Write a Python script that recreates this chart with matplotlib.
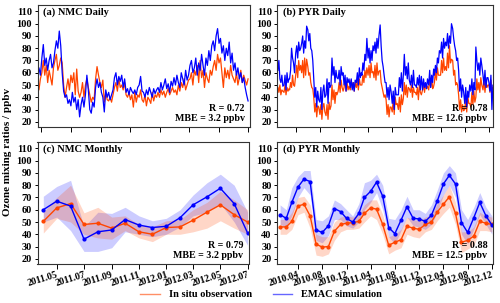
import matplotlib
matplotlib.use("Agg")
import matplotlib.pyplot as plt
import matplotlib.dates as mdates
from matplotlib.lines import Line2D
import pandas as pd

plt.rcParams['font.family'] = ['Liberation Serif', 'DejaVu Serif']
plt.rcParams['font.weight'] = 'bold'

OBS_COLOR = '#ff4500'
SIM_COLOR = '#0000ff'

# ---------------- NMC daily (every 3rd day from 2011-04-23) ----------------
nmc_daily_start = '2011-04-23'
nmc_daily_sim = [60, 64, 58, 72, 83, 66, 72, 62, 70, 75, 64, 68, 78, 86, 80, 94, 82,
                 60, 45, 40, 42, 35, 38, 33, 44, 36, 40, 30, 38, 24, 34, 40, 32, 42, 58, 46,
                 30, 27, 36, 32, 48, 55, 48, 52, 44, 40, 28, 46, 40, 44, 38, 42, 46,
                 56, 60, 50, 57, 53, 58, 48, 55, 44, 47, 42, 48, 45, 43, 46, 42, 48, 50, 57, 45,
                 44, 40, 46, 42, 48, 44, 40, 47, 43, 46,
                 48, 44, 52, 46, 50, 55, 47, 51, 44, 53, 49, 56,
                 50, 58, 52, 48, 60, 55, 50, 62, 54, 58,
                 66, 70, 60, 64, 72, 58, 68, 62, 75, 66,
                 58, 72, 66, 78, 70, 82, 86, 78, 90, 96, 84, 88,
                 76, 82, 70, 80, 74, 85, 68, 76,
                 62, 68, 58, 64, 55, 60, 52, 56, 48, 42, 37]
nmc_daily_obs = [52, 46, 55, 60, 70, 58, 66, 52, 62, 56, 50, 64, 70, 75, 62, 66, 72,
                 68, 50, 40, 48, 55, 46, 58, 52, 60, 42, 63, 45, 40, 44, 52, 40, 50, 55, 48,
                 42, 36, 40, 38, 55, 65, 58, 52, 48, 54, 36, 44, 38, 37, 40, 36, 42,
                 48, 52, 45, 55, 48, 50, 46, 52, 42, 40, 44, 38, 42, 32, 44, 36, 42, 40, 46, 38,
                 36, 42, 33, 40, 38, 35, 44, 37, 42, 40,
                 44, 40, 46, 42, 45, 40, 44, 47, 42, 45, 48, 44,
                 46, 42, 50, 45, 52, 48, 55, 46, 50, 54,
                 55, 60, 50, 62, 58, 66, 52, 70, 56, 62,
                 48, 60, 55, 52, 62, 58, 65, 70, 62, 75, 68, 72,
                 60, 48, 64, 56, 62, 55, 66, 58,
                 55, 52, 60, 50, 56, 62, 52, 58, 54, 50, 55]

# ---------------- PYR daily (6 samples per month, 2010-01 .. 2012-12) ----------------
pyr_daily_first_month = '2010-01-01'
pyr_day_offsets = [0, 5, 10, 15, 20, 25]
pyr_daily_sim = [
    62, 70, 55, 52, 58, 49,   50, 58, 46, 60, 52, 55,   55, 62, 80, 72, 68, 60,
    76, 82, 72, 85, 78, 80,   84, 90, 76, 86, 80, 98,   95, 86, 92, 80, 78, 70,
    55, 40, 48, 32, 45, 38,   36, 48, 30, 45, 50, 40,   42, 55, 35, 52, 48, 50,
    72, 58, 65, 52, 62, 56,   55, 62, 50, 65, 58, 60,   50, 58, 45, 56, 52, 55,
    48, 55, 46, 52, 45, 54,   52, 60, 50, 64, 56, 60,   58, 68, 62, 75, 70, 88,
    72, 80, 68, 78, 70, 82,   78, 85, 76, 88, 80, 90,   99, 82, 70, 65, 58, 52,
    52, 40, 48, 38, 50, 45,   35, 45, 30, 48, 42, 42,   42, 56, 48, 60, 45, 58,
    75, 58, 65, 55, 68, 54,   50, 58, 48, 62, 50, 50,   48, 56, 50, 58, 46, 57,
    46, 55, 48, 52, 47, 55,   50, 62, 48, 58, 52, 63,   58, 66, 60, 72, 68, 78,
    76, 85, 72, 88, 80, 85,   82, 92, 80, 90, 84, 100,  96, 88, 82, 78, 70, 72,
    62, 45, 55, 40, 50, 45,   35, 48, 32, 45, 40, 50,   45, 55, 42, 52, 46, 81,
    70, 62, 68, 58, 72, 66,   58, 50, 62, 48, 56, 56,   52, 45, 58, 30, 50, 50]
pyr_daily_obs = [
    48, 44, 50, 42, 46, 45,   44, 50, 42, 48, 45, 47,   46, 52, 48, 58, 50, 49,
    58, 66, 56, 70, 62, 66,   60, 70, 56, 72, 58, 71,   65, 58, 60, 52, 48, 47,
    40, 28, 35, 24, 33, 32,   26, 34, 22, 32, 35, 28,   25, 34, 22, 36, 30, 33,
    50, 38, 46, 35, 44, 42,   45, 52, 44, 54, 48, 45,   48, 54, 45, 52, 46, 49,
    46, 54, 48, 52, 45, 52,   48, 54, 46, 55, 50, 50,   50, 58, 52, 62, 56, 64,
    58, 66, 56, 68, 60, 61,   56, 66, 54, 68, 58, 61,   62, 52, 48, 44, 40, 42,
    38, 26, 34, 24, 32, 32,   28, 38, 26, 40, 34, 35,   30, 40, 28, 42, 34, 39,
    52, 42, 50, 40, 48, 47,   44, 50, 40, 48, 44, 44,   42, 48, 38, 50, 44, 42,
    46, 52, 44, 50, 47, 49,   46, 54, 48, 56, 47, 49,   52, 62, 54, 64, 58, 58,
    58, 70, 60, 72, 62, 65,   62, 76, 64, 82, 68, 71,   70, 58, 62, 50, 52, 50,
    42, 30, 38, 28, 34, 29,   30, 40, 28, 42, 35, 35,   32, 44, 34, 45, 36, 40,
    55, 46, 52, 44, 56, 50,   46, 54, 44, 52, 48, 50,   50, 44, 54, 46, 48, 46]

# ---------------- NMC monthly (2011-04 .. 2012-07) ----------------
nmc_month_start = '2011-04-01'
nmc_mon_obs = [50.5, 61.5, 65, 48, 49, 45, 49, 42, 40, 45.5, 46, 51.5, 58, 64, 56, 50]
nmc_mon_obs_hi = [58, 70, 80, 57.5, 62, 54, 55, 48, 46, 51, 52, 60, 66, 75, 68, 60]
nmc_mon_obs_lo = [41, 53, 50, 40, 37, 36, 43, 37, 34, 40, 40, 42, 45, 51, 45, 40]
nmc_mon_sim = [60, 67, 63, 36, 42, 43.5, 52, 47.5, 45.5, 46.5, 53.5, 64, 70.5, 77.5, 65, 41]
nmc_mon_sim_hi = [71, 79, 84, 46, 58, 57, 62, 55, 51, 53, 60, 72, 82, 89, 80, 58]
nmc_mon_sim_lo = [50, 54, 43, 26, 26, 29, 42, 40, 38, 40, 46, 55, 58, 65, 50, 31]

# ---------------- PYR monthly (2010-01 .. 2012-12) ----------------
pyr_month_start = '2010-01-01'
pyr_mon_obs = [46, 46, 50.5, 63, 64.5, 55, 32, 29.5, 30, 42.5, 48, 49,
               49.5, 50.5, 57, 61.5, 60.5, 48, 31, 33.5, 35.5, 46.5, 45, 44,
               48, 50, 58, 64.5, 70.5, 57, 33.5, 35, 38.5, 50.5, 49, 48]
pyr_mon_obs_hi = [52, 52, 58, 70, 71, 64, 40, 38, 38, 50, 54, 55,
                  54, 56, 64, 68, 68, 56, 38, 40, 44, 54, 52, 51,
                  54, 56, 65, 72, 80, 66, 42, 42, 46, 58, 55, 54]
pyr_mon_obs_lo = [40, 40, 44, 56, 58, 45, 23, 22, 24, 35, 42, 44,
                  44, 45, 50, 55, 52, 40, 24, 27, 29, 40, 38, 37,
                  42, 44, 51, 57, 62, 48, 25, 28, 31, 43, 43, 42]
pyr_mon_sim = [56, 53, 66, 78.5, 85, 83, 43.5, 41.5, 47, 61, 58.5, 53,
               50, 57, 70, 75, 82.5, 71, 45.5, 40.5, 51.5, 62.5, 53, 52.5,
               50.5, 55.5, 67, 81, 88, 81, 49.5, 41.5, 53.5, 66, 55, 47.5]
pyr_mon_sim_hi = [64, 60, 78, 87, 92, 92, 52, 51, 55, 68, 65, 60,
                  55, 65, 82, 84, 89, 80, 53, 52, 60, 71, 60, 60,
                  57, 64, 76, 90, 96, 90, 60, 52, 62, 74, 62, 55]
pyr_mon_sim_lo = [48, 46, 55, 70, 78, 72, 35, 33, 39, 52, 52, 47,
                  45, 50, 60, 66, 74, 60, 38, 32, 43, 54, 47, 46,
                  44, 48, 58, 72, 80, 70, 40, 32, 44, 56, 48, 40]

panel_titles = ['(a) NMC Daily', '(b) PYR Daily', '(c) NMC Monthly', '(d) PYR Monthly']
stats_text = ['R = 0.72\nMBE = 3.2 ppbv', 'R = 0.78\nMBE = 12.6 ppbv',
              'R = 0.79\nMBE = 3.2 ppbv', 'R = 0.88\nMBE = 12.5 ppbv']
y_ticks = [20, 30, 40, 50, 60, 70, 80, 90, 100, 110]
legend_labels = ['In situ observation', 'EMAC simulation']
y_label = 'Ozone mixing ratios / ppbv'

# ---------------- build x values ----------------
nmc_d_dates = pd.date_range(nmc_daily_start, periods=len(nmc_daily_sim), freq='3D')
pyr_months = pd.date_range(pyr_daily_first_month, periods=len(pyr_daily_sim) // 6, freq='MS')
pyr_d_dates = pd.DatetimeIndex([m + pd.Timedelta(days=o) for m in pyr_months for o in pyr_day_offsets])
nmc_m_dates = pd.date_range(nmc_month_start, periods=len(nmc_mon_obs), freq='MS')
pyr_m_dates = pd.date_range(pyr_month_start, periods=len(pyr_mon_obs), freq='MS')

fig = plt.figure(figsize=(5, 3.03), dpi=100)
W, H = 500, 303
def axpos(l, r, t, b):
    return [l / W, 1 - b / H, (r - l) / W, (b - t) / H]

ax_a = fig.add_axes(axpos(37.5, 250, 4.7, 127.3))
ax_b = fig.add_axes(axpos(277.3, 492.7, 4.7, 127.3))
ax_c = fig.add_axes(axpos(37.5, 248.5, 141.7, 264.3))
ax_d = fig.add_axes(axpos(277.3, 492.7, 141.7, 264.3))
axes = [ax_a, ax_b, ax_c, ax_d]

# daily
ax_a.plot(nmc_d_dates, nmc_daily_obs, color=OBS_COLOR, lw=0.9)
ax_a.plot(nmc_d_dates, nmc_daily_sim, color=SIM_COLOR, lw=0.9)
ax_b.plot(pyr_d_dates, pyr_daily_obs, color=OBS_COLOR, lw=0.9)
ax_b.plot(pyr_d_dates, pyr_daily_sim, color=SIM_COLOR, lw=0.9)

# monthly
for ax, d, o, ohi, olo, s, shi, slo in [
        (ax_c, nmc_m_dates, nmc_mon_obs, nmc_mon_obs_hi, nmc_mon_obs_lo, nmc_mon_sim, nmc_mon_sim_hi, nmc_mon_sim_lo),
        (ax_d, pyr_m_dates, pyr_mon_obs, pyr_mon_obs_hi, pyr_mon_obs_lo, pyr_mon_sim, pyr_mon_sim_hi, pyr_mon_sim_lo)]:
    ax.fill_between(d, slo, shi, color=SIM_COLOR, alpha=0.2, lw=0)
    ax.fill_between(d, olo, ohi, color=OBS_COLOR, alpha=0.22, lw=0)
    ax.plot(d, o, color=OBS_COLOR, lw=1.0, marker='o', ms=2.0)
    ax.plot(d, s, color=SIM_COLOR, lw=1.0, marker='o', ms=2.0)

ax_a.set_xlim(pd.Timestamp('2011-04-23'), pd.Timestamp('2012-07-05'))
ax_c.set_xlim(nmc_m_dates[0] - pd.Timedelta(days=13), nmc_m_dates[-1] + pd.Timedelta(days=2))
ax_b.set_xlim(pd.Timestamp('2009-12-29'), pd.Timestamp('2012-12-20'))
ax_d.set_xlim(pyr_m_dates[0] - pd.Timedelta(days=14), pyr_m_dates[-1] + pd.Timedelta(days=4))

for ax in (ax_a, ax_c):
    ax.xaxis.set_major_locator(mdates.MonthLocator(bymonth=[1, 3, 5, 7, 9, 11]))
for ax in (ax_b, ax_d):
    ax.xaxis.set_major_locator(mdates.MonthLocator(bymonth=[4, 8, 12]))
for ax in (ax_a, ax_b):
    ax.xaxis.set_major_formatter(plt.NullFormatter())
for ax in (ax_c, ax_d):
    ax.xaxis.set_major_formatter(mdates.DateFormatter('%Y.%m'))

for ax, title, st in zip(axes, panel_titles, stats_text):
    ax.set_ylim(15.5, 115.5)
    ax.set_yticks(y_ticks)
    ax.tick_params(axis='y', direction='out', labelsize=7.5, pad=1.5, length=2.5, width=0.7)
    ax.tick_params(axis='x', direction='out', labelsize=7, pad=1.0, length=3.5, width=0.7)
    for sp in ax.spines.values():
        sp.set_linewidth(0.8)
        sp.set_color('#333333')
    ax.text(0.025, 0.975, title, transform=ax.transAxes, ha='left', va='top',
            fontsize=7.5, fontweight='bold')
    ax.text(0.975, 0.035, st, transform=ax.transAxes, ha='right', va='bottom',
            multialignment='right', fontsize=7.2, fontweight='bold', linespacing=1.2)

for ax in (ax_c, ax_d):
    for lab in ax.get_xticklabels():
        lab.set_rotation(17)
        lab.set_ha('right')
        lab.set_rotation_mode('anchor')

fig.text(0.016, 0.5, y_label, rotation=90, ha='center', va='center', fontsize=8, fontweight='bold')

handles = [Line2D([], [], color=OBS_COLOR, lw=1.0, alpha=0.6),
           Line2D([], [], color=SIM_COLOR, lw=1.0, alpha=0.6)]
fig.legend(handles, legend_labels, loc='center', bbox_to_anchor=(0.522, 0.028), ncol=2,
           frameon=False, fontsize=7.5, handlelength=1.9, columnspacing=2.0,
           handletextpad=0.8, borderpad=0.1)

fig.savefig('out.png', dpi=100)
